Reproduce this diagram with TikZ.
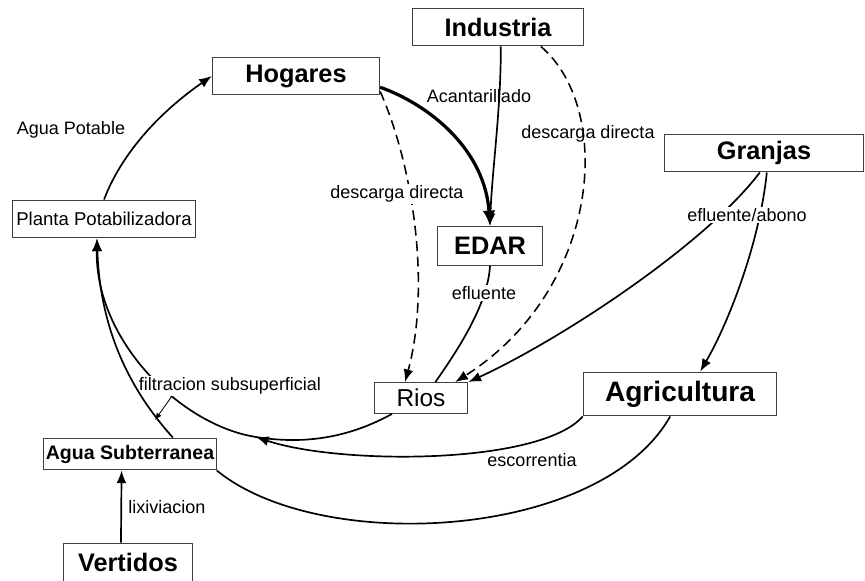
\documentclass[tikz,border=0pt]{standalone}
\usepackage{fontspec}
\setmainfont{Liberation Sans}
\usetikzlibrary{arrows.meta}

\begin{document}
\begin{tikzpicture}[
		x=0.025cm, y=-0.025cm,
		box/.style={rectangle, draw=black!75, line width=0.7pt, fill=white, inner sep=0pt, minimum height=27pt},
		big/.style={font=\fontsize{18}{20}\selectfont\bfseries},
		lbl/.style={font=\fontsize{12.8}{14}\selectfont, inner sep=1pt},
		flow/.style={line width=1.2pt, -{Latex[length=9pt, width=7pt]}},
		discharge/.style={flow, line width=1.1pt, dash pattern=on 7pt off 4pt}
	]
  \useasboundingbox (0,0) rectangle (865,580);

  \node (ind) [box, big, minimum width=122pt] at (498, 27) {Industria};
  \node (hog) [box, big, minimum width=119pt] at (296, 76) {Hogares};
  \node (plan) [box, minimum width=130.5pt, font=\fontsize{13.2}{15}\selectfont] at (104, 219) {Planta Potabilizadora};
  \node (edar) [box, big, minimum width=75pt, minimum height=27.7pt] at (490, 246) {EDAR};
  \node (gra) [box, big, minimum width=141.5pt] at (764, 153) {Granjas};
  \node (rios) [box, minimum width=66.7pt, minimum height=22pt, font=\fontsize{17.4}{19}\selectfont] at (421, 398) {Rios};
  \node (agr) [box, minimum width=137.6pt, minimum height=31.2pt, font=\fontsize{20}{22}\selectfont\bfseries] at (680, 394) {Agricultura};
  \node (agsub) [box, minimum width=122.7pt, minimum height=22.7pt, font=\fontsize{13.9}{15}\selectfont\bfseries] at (130, 454) {Agua Subterranea};
  \node (vert) [box, big, minimum width=92.2pt] at (128, 562) {Vertidos};
  \coordinate (esc) at (256, 437);

  \draw [flow] (plan.north) .. controls (125, 145) and (170, 105) .. (hog.west);
  \draw [flow, line width=2.3pt, -{Latex[length=11pt, width=9pt]}] ([yshift=-8pt]hog.east) .. controls (430, 105) and (485, 150) .. (edar.north);
  \draw [flow] ([xshift=2pt]ind.south) .. controls (501, 110) and (492, 170) .. (edar.north);
  \draw [discharge] ([yshift=-11pt]hog.east) .. controls (415, 170) and (430, 290) .. (rios.135);
  \draw [discharge] ([xshift=30.5pt]ind.south) .. controls (615, 110) and (600, 290) .. (rios.25);
  \draw [line width=1.2pt] (edar.south) .. controls (488, 300) and (465, 340) .. (rios.48);
  \draw [flow] ([xshift=-3pt]gra.south) .. controls (705, 245) and (560, 340) .. (rios.north east);
  \draw [flow] ([xshift=2pt]gra.south) .. controls (760, 240) and (730, 320) .. (agr.48);
  \draw [flow] ([xshift=13pt]rios.south west) .. controls (350, 437) and (306, 445) .. (esc)
    .. controls (180, 425) and (95, 340) .. ([xshift=-5pt]plan.south);
  \draw [flow] (agr.south west) .. controls (540, 465) and (340, 465) .. (esc);
  \draw [line width=1.2pt] ([xshift=-7pt]agr.south) .. controls (600, 540) and (320, 555) .. (agsub.south east);
  \draw [flow] ([xshift=-5pt]vert.north) -- ([xshift=-6pt]agsub.south);

  \node (lAgua) [lbl] at (71, 130) {Agua Potable};
  \node (lAcan) [lbl] at (479, 96) {Acantarillado};
  \node (lDesH) [lbl, fill=white] at (397, 194) {descarga directa};
  \node (lDesI) [lbl] at (588, 134) {descarga directa};
  \node (lEflu) [lbl, fill=white] at (484, 293) {efluente};
  \node (lAbon) [lbl, fill=white] at (747, 215) {efluente/abono};
  \node (lFilt) [lbl, fill=white] at (230, 386) {filtracion subsuperficial};
  \node (lEsco) [lbl] at (532, 460) {escorrentia};
  \node (lLixi) [lbl] at (167, 507) {lixiviacion};

  \draw [flow] ([xshift=30.5pt]agsub.north) .. controls (130, 390) and (100, 330) .. ([xshift=-5pt]plan.south);
  \coordinate (fsrc) at (172, 396);
  \coordinate (fdst) at (155, 420);
  \draw [line width=0.6pt, -{Latex[length=5pt, width=4pt]}] (fsrc) -- (fdst);
\end{tikzpicture}
\end{document}
